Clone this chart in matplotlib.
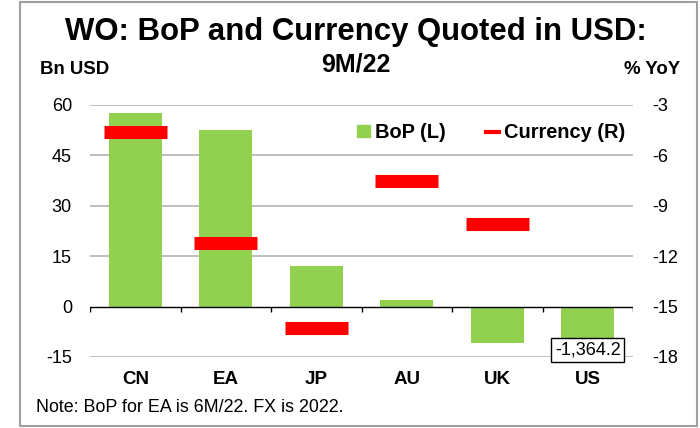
import matplotlib
matplotlib.use("Agg")
import matplotlib.pyplot as plt
from matplotlib.patches import Rectangle, Patch
from matplotlib.lines import Line2D
import numpy as np

plt.rcParams['font.family'] = ['Liberation Sans', 'DejaVu Sans']
plt.rcParams['axes.unicode_minus'] = False

# data
regions = ['CN', 'EA', 'JP', 'AU', 'UK', 'US']
bop = [57.5, 52.7, 12.2, 2.1, -10.8, -1364.2]     # Bn USD, left axis
currency = [-4.6, -11.2, -16.3, -7.5, -10.1, np.nan]  # % YoY, right axis
left_ticks = [-15, 0, 15, 30, 45, 60]
right_ticks = [-18, -15, -12, -9, -6, -3]

green = '#92D050'
red = '#FF0000'
gridc = '#b4b4b4'

fig = plt.figure(figsize=(7, 4.28), dpi=100)
ax = fig.add_axes([0.1286, 0.166, 0.7757, 0.5887])
ax2 = ax.twinx()

x = np.arange(len(regions))
ax.bar(x, bop, width=0.585, color=green, zorder=2)
ax.set_ylim(-15, 60)
ax.set_xlim(-0.5, len(regions) - 0.5)
ax.set_yticks(left_ticks)
for t in left_ticks:
    if t != 0:
        ax.axhline(t, color=gridc, lw=1.2, zorder=0)
ax.axhline(0, color='black', lw=1, zorder=3)
# boundary ticks under the zero line
bounds = np.arange(len(regions) + 1) - 0.5
ax.vlines(bounds, -1.5, 0, color='black', lw=1, zorder=3)

ax2.hlines(currency, x - 0.35, x + 0.35, color=red, lw=9.4, zorder=4)
ax2.set_ylim(-18, -3)
ax2.set_yticks(right_ticks)

for a in (ax, ax2):
    for s in a.spines.values():
        s.set_visible(False)
    a.tick_params(length=0, labelsize=13)
ax.tick_params(axis='y', pad=13)
ax2.tick_params(axis='y', pad=13.5)
ax.set_xticks(x)
ax.set_xticklabels(regions, fontweight='bold', fontsize=13.5)
ax.tick_params(axis='x', pad=10)

# label for the off-scale US bar
ax.annotate(f'{bop[5]:,.1f}', xy=(x[5], ax.get_ylim()[0]), xytext=(0, 5),
            textcoords='offset points', ha='center', va='center', fontsize=13,
            zorder=6, annotation_clip=False,
            bbox=dict(boxstyle='square,pad=0.2', fc='white', ec='black', lw=1))

handles = [Patch(color=green, label='BoP (L)'),
           Line2D([], [], color=red, lw=3, label='Currency (R)')]
leg = ax2.legend(handles=handles, loc='center', bbox_to_anchor=(0.739, 0.889), ncol=2,
                 frameon=False, prop={'weight': 'bold', 'size': 14.4},
                 handlelength=0.65, handleheight=0.55, handletextpad=0.25,
                 columnspacing=2.0, borderpad=0, borderaxespad=0)

fig.text(0.509, 0.925, 'WO: BoP and Currency Quoted in USD:', ha='center', va='center',
         fontsize=22.4, fontweight='bold')
fig.text(0.509, 0.85, '9M/22', ha='center', va='center', fontsize=18, fontweight='bold')
fig.text(0.057, 0.838, 'Bn USD', ha='left', va='center', fontsize=13.4, fontweight='bold')
fig.text(0.971, 0.838, '% YoY', ha='right', va='center', fontsize=13.4, fontweight='bold')
fig.text(0.051, 0.047, 'Note: BoP for EA is 6M/22. FX is 2022.', ha='left', va='center', fontsize=12.9)

fig.patches.append(Rectangle((20 / 700, 2 / 428), 677 / 700, 424 / 428, transform=fig.transFigure,
                             fill=False, ec='#a0a0a0', lw=1.5))

fig.savefig('out.png', dpi=100)
